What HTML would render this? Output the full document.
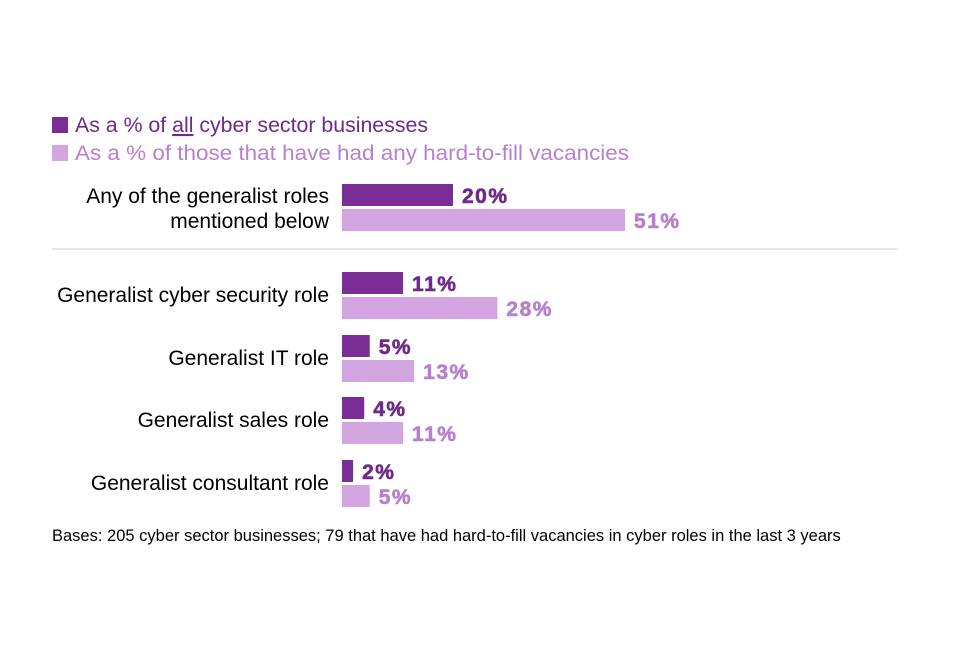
<!DOCTYPE html>
<html><head><meta charset="utf-8"><style>
body{margin:0;background:#fff;}
svg text{font-family:"Liberation Sans",Arial,sans-serif;}
</style></head><body>
<svg width="960" height="640">
<g>
<rect x="52" y="117" width="16" height="16" fill="#7B2D96"/>
<text x="75" y="132" font-size="21" fill="#6E2A8A" textLength="353" lengthAdjust="spacingAndGlyphs">As a % of <tspan text-decoration="underline">all</tspan> cyber sector businesses</text>
<rect x="52" y="145" width="16" height="16" fill="#D3A5E0"/>
<text x="75" y="160" font-size="21.5" fill="#B780CC" textLength="554" lengthAdjust="spacingAndGlyphs">As a % of those that have had any hard-to-fill vacancies</text>
</g>
<line x1="52" y1="249" x2="898" y2="249" stroke="#d0d0d0" stroke-width="1"/>
<g id="bars"></g>
<text x="52" y="541" font-size="16.5" fill="#000">Bases: 205 cyber sector businesses; 79 that have had hard-to-fill vacancies in cyber roles in the last 3 years</text>
</svg>
<script>
const categories=[["Any of the generalist roles","mentioned below"],["Generalist cyber security role"],["Generalist IT role"],["Generalist sales role"],["Generalist consultant role"]];
const allValues=[20,11,5,4,2];
const htfValues=[51,28,13,11,5];
const groupTops=[184,272,335,397,460];
const x0=342, scale=5.55, bh=22;
const g=document.getElementById('bars');
const NS="http://www.w3.org/2000/svg";
function mk(t,a){const e=document.createElementNS(NS,t);for(const k in a)e.setAttribute(k,a[k]);g.appendChild(e);return e;}
categories.forEach((c,i)=>{
  const y=groupTops[i];
  const r1=mk('rect',{x:x0,y:y,width:allValues[i]*scale,height:bh,fill:'#7B2D96'});
  
  
  const r2=mk('rect',{x:x0,y:y+25,width:htfValues[i]*scale,height:bh,fill:'#D3A5E0'});
  
  
  const t1=mk('text',{x:x0+allValues[i]*scale+9,y:y+19,'font-size':21,'font-weight':'bold','letter-spacing':1.5,fill:'#6E2A8A',stroke:'#6E2A8A','stroke-width':0.6});
  t1.textContent=allValues[i]+'%';
  
  
  const t2=mk('text',{x:x0+htfValues[i]*scale+9,y:y+44,'font-size':21,'font-weight':'bold','letter-spacing':1.5,fill:'#B780CC',stroke:'#B780CC','stroke-width':0.6});
  t2.textContent=htfValues[i]+'%';
  
  
  const lab=mk('text',{x:329,'text-anchor':'end','font-size':21,fill:'#000'});
  
  
  if(c.length===2){
    lab.setAttribute('y',y+19);
    const a=document.createElementNS(NS,'tspan');a.setAttribute('x',329);a.textContent=c[0];lab.appendChild(a);
    const b=document.createElementNS(NS,'tspan');b.setAttribute('x',329);b.setAttribute('dy',25);b.textContent=c[1];lab.appendChild(b);
  } else {lab.setAttribute('y',y+30);lab.textContent=c[0];}
});
</script>
</body></html>
